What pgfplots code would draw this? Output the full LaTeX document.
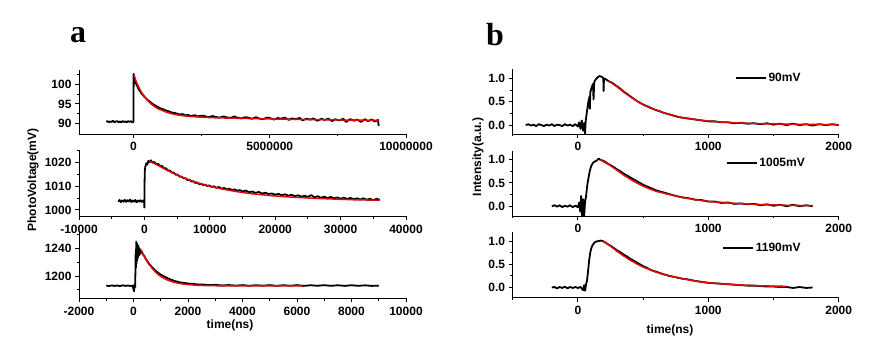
\documentclass[border=0pt]{standalone}
\usepackage{pgfplots}
\pgfplotsset{compat=1.18}
\usepackage{fontspec}
\setmainfont{Liberation Sans}
\newfontfamily\serifbold{Liberation Serif}
\definecolor{fitred}{RGB}{225,10,10}
\pgfplotsset{
  panel/.style={
    scale only axis,
    anchor=south west,
    axis lines=left,
    axis line style={-, line width=0.9pt},
    scaled ticks=false,
    tick align=outside,
    major tick length=4pt,
    minor tick length=2.5pt,
    every tick/.style={black, line width=0.9pt},
    /pgf/number format/assume math mode=true,
    tick label style={font=\bfseries\fontsize{12}{14}\selectfont},
    xticklabel style={yshift=-1pt},
    legend style={draw=none, fill=none, inner sep=0pt, font=\bfseries\fontsize{12}{14}\selectfont},
    legend image code/.code={\draw[black, line width=1.3pt] (0pt,0pt) -- (30pt,0pt);},
  },
  blk/.style={black, line width=1.8pt, line join=round},
  fit/.style={fitred, line width=1.5pt, line join=round},
}
\begin{document}
\begin{tikzpicture}
\path[use as bounding box] (0pt,0pt) rectangle (878pt,361pt);

% ---------- a1 ----------
\begin{axis}[panel, at={(79pt,227pt)}, width=327pt, height=64pt,
  xmin=-2e6, xmax=1e7, ymin=87.3, ymax=103.7,
  xtick={0,5e6,1e7}, xticklabels={0,5000000,10000000},
  minor xtick={2.5e6,7.5e6},
  ytick={90,95,100}, yticklabels={90,95,100},
  minor ytick={92.5,97.5,102.5}]
\addplot[blk] coordinates {(-1e6,90.4)(-0.95e6,90.6)(-0.9e6,90.3)(-0.85e6,90.5)(-0.8e6,90.4)(-0.75e6,90.7)(-0.7e6,90.3)(-0.65e6,90.5)(-0.6e6,90.6)(-0.55e6,90.3)(-0.5e6,90.5)(-0.45e6,90.3)(-0.4e6,90.6)(-0.35e6,90.4)(-0.3e6,90.5)(-0.25e6,90.3)(-0.2e6,90.6)(-0.15e6,90.4)(-0.1e6,90.6)(-0.05e6,90.3)(-0.01e6,90.5)(0,90.4)(0.005e6,102.7)(0.03e6,101.8)(0.06e6,100.9)(0.1e6,100.1)(0.15e6,99.4)(0.2e6,98.6)(0.25e6,98.2)(0.3e6,97.6)(0.35e6,97.3)(0.4e6,96.8)(0.45e6,96.5)(0.5e6,96.1)(0.6e6,95.6)(0.7e6,95.0)(0.8e6,94.6)(0.9e6,94.2)(1.0e6,93.8)(1.1e6,93.6)(1.2e6,93.3)(1.3e6,93.1)(1.4e6,92.8)(1.5e6,92.7)(1.6e6,92.5)(1.7e6,92.3)(1.8e6,92.4)(1.9e6,92.1)(2.0e6,92.2)(2.1e6,91.9)(2.25e6,92.1)(2.35e6,91.8)(2.5e6,92.0)(2.6e6,91.9)(2.75e6,91.6)(2.9e6,91.9)(3.0e6,91.7)(3.15e6,91.5)(3.3e6,91.8)(3.4e6,91.6)(3.55e6,91.4)(3.7e6,91.8)(3.8e6,91.5)(3.95e6,91.3)(4.1e6,91.6)(4.2e6,91.5)(4.35e6,91.2)(4.5e6,91.6)(4.6e6,91.3)(4.75e6,91.1)(4.9e6,91.5)(5.0e6,91.4)(5.15e6,91.0)(5.3e6,91.4)(5.4e6,91.2)(5.55e6,91.5)(5.7e6,90.9)(5.8e6,91.3)(5.95e6,91.1)(6.1e6,91.4)(6.2e6,90.8)(6.35e6,91.2)(6.5e6,91.0)(6.6e6,91.3)(6.75e6,90.7)(6.9e6,91.2)(7.0e6,90.9)(7.15e6,91.2)(7.3e6,90.6)(7.4e6,91.1)(7.55e6,90.8)(7.7e6,91.2)(7.8e6,90.4)(7.95e6,91.1)(8.1e6,90.7)(8.2e6,91.0)(8.35e6,90.4)(8.5e6,91.1)(8.6e6,90.6)(8.75e6,91.0)(8.85e6,90.5)(8.97e6,90.9)(9.0e6,89.4)};
\addplot[fit] coordinates {(0.02e6,102.4)(0.1e6,100.7)(0.2e6,99.2)(0.3e6,97.9)(0.4e6,96.9)(0.5e6,96.0)(0.6e6,95.3)(0.7e6,94.7)(0.8e6,94.2)(0.9e6,93.8)(1.0e6,93.5)(1.2e6,92.9)(1.4e6,92.5)(1.6e6,92.2)(1.8e6,92.0)(2.0e6,91.85)(2.5e6,91.6)(3.0e6,91.45)(4.0e6,91.3)(5.0e6,91.15)(6.0e6,91.05)(7.0e6,90.95)(8.0e6,90.85)(9.0e6,90.8)};
\end{axis}

% ---------- a2 ----------
\begin{axis}[panel, at={(79pt,144.5pt)}, width=327pt, height=66.5pt,
  xmin=-10000, xmax=40000, ymin=997.2, ymax=1025.4,
  xtick={-10000,0,10000,20000,30000,40000}, xticklabels={-10000,0,10000,20000,30000,40000},
  minor xtick={-5000,5000,15000,25000,35000},
  ytick={1000,1010,1020}, yticklabels={1000,1010,1020},
  minor ytick={1005,1015,1025}]
\addplot[blk] coordinates {(-4000,1003.5)(-3800,1004.2)(-3600,1003.3)(-3400,1004.0)(-3200,1003.5)(-3000,1004.3)(-2800,1003.4)(-2600,1004.1)(-2400,1003.6)(-2200,1004.4)(-2000,1003.3)(-1800,1004.0)(-1600,1003.5)(-1400,1004.2)(-1200,1003.2)(-1000,1004.0)(-800,1003.5)(-600,1004.1)(-400,1003.4)(-200,1004.0)(-50,1003.6)(0,1001.0)(30,1012)(60,1016.5)(150,1018.5)(300,1019.8)(450,1019.2)(600,1020.8)(800,1020.2)(1000,1021.0)(1200,1020.1)(1500,1020.3)(1800,1019.4)(2100,1019.5)(2400,1018.6)(2700,1018.6)(3000,1017.7)(3300,1017.6)(3600,1016.7)(3900,1016.7)(4200,1015.8)(4500,1015.8)(4800,1014.9)(5100,1015.0)(5400,1014.1)(5700,1014.1)(6000,1013.4)(6300,1013.4)(6600,1012.6)(6900,1012.8)(7200,1012.0)(7500,1012.1)(7800,1011.4)(8100,1011.6)(8400,1010.9)(8700,1011.1)(9000,1010.5)(9300,1010.7)(9600,1010.1)(9900,1010.4)(10200,1009.8)(10600,1010.0)(11000,1009.4)(11400,1009.7)(11800,1009.0)(12200,1009.3)(12600,1008.7)(13000,1009.0)(13400,1008.4)(13800,1008.7)(14200,1008.1)(14600,1008.4)(15000,1007.8)(15500,1008.2)(16000,1007.5)(16500,1007.8)(17000,1007.2)(17500,1007.6)(18000,1006.9)(18500,1007.3)(19000,1006.7)(19500,1007.0)(20000,1006.4)(20500,1006.8)(21000,1006.2)(21500,1006.6)(22000,1006.0)(22500,1006.4)(23000,1005.8)(23500,1006.2)(24000,1005.6)(24500,1006.0)(25000,1005.5)(25500,1006.3)(26000,1005.3)(26500,1005.8)(27000,1005.1)(27500,1005.6)(28000,1005.0)(28500,1005.5)(29000,1004.9)(29500,1005.3)(30000,1004.7)(30500,1005.2)(31000,1004.6)(31500,1005.1)(32000,1004.5)(32500,1004.9)(33000,1004.4)(33500,1004.9)(34000,1004.3)(34500,1004.7)(35000,1004.1)(35500,1004.7)(36000,1004.3)};
\addplot[fit] coordinates {(800,1020.6)(2000,1019.0)(3000,1017.5)(4000,1016.1)(5000,1014.8)(6000,1013.6)(7000,1012.6)(8000,1011.6)(9000,1010.8)(10000,1010.0)(12000,1008.8)(14000,1007.8)(16000,1007.0)(18000,1006.4)(20000,1005.9)(22000,1005.5)(24000,1005.2)(26000,1004.9)(28000,1004.7)(30000,1004.5)(32000,1004.3)(34000,1004.2)(36000,1004.1)};
\end{axis}

% ---------- a3 ----------
\begin{axis}[panel, at={(79pt,62.7pt)}, width=327pt, height=66pt,
  xmin=-2000, xmax=10000, ymin=1167.8, ymax=1263.5,
  xtick={-2000,0,2000,4000,6000,8000,10000}, xticklabels={-2000,0,2000,4000,6000,8000,10000},
  minor xtick={-1000,1000,3000,5000,7000,9000},
  ytick={1200,1240}, yticklabels={1200,1240},
  minor ytick={1180,1220,1260}]
\addplot[blk] coordinates {(-1000,1186.3)(-900,1185.6)(-800,1186.5)(-700,1185.7)(-600,1186.4)(-500,1185.5)(-400,1186.6)(-300,1185.8)(-200,1186.3)(-100,1185.6)(-30,1186.2)(0,1181)(20,1178)(40,1188)(60,1184)(70,1205)(80,1235)(90,1212)(100,1250)(110,1218)(120,1245)(130,1222)(140,1247)(150,1225)(160,1242)(170,1228)(185,1244)(200,1230)(220,1240)(240,1232)(260,1238)(280,1234)(300,1236)(350,1231)(400,1229)(450,1225)(500,1222)(550,1219)(600,1216.5)(700,1212)(800,1208)(900,1205)(1000,1202)(1100,1200)(1200,1198)(1300,1196)(1400,1194.5)(1500,1193)(1600,1192)(1700,1191)(1800,1190.3)(1900,1189.8)(2000,1189.2)(2200,1188.5)(2400,1187.8)(2600,1187.6)(2800,1186.9)(3000,1187.3)(3250,1186.4)(3500,1187.0)(3750,1186.2)(4000,1186.9)(4250,1186.0)(4500,1186.8)(4750,1186.1)(5000,1186.9)(5250,1185.9)(5500,1186.8)(5750,1186.0)(6000,1186.9)(6250,1185.8)(6500,1186.7)(6750,1186.0)(7000,1186.8)(7250,1185.9)(7500,1186.7)(7750,1185.8)(8000,1186.7)(8250,1185.9)(8500,1186.6)(8750,1185.8)(9000,1186.2)};
\addplot[fit] coordinates {(280,1238)(350,1232)(400,1228)(500,1221)(600,1215.5)(700,1210.5)(800,1206)(900,1202.5)(1000,1199.5)(1200,1195)(1400,1192)(1600,1190)(1800,1188.6)(2000,1187.7)(2300,1186.8)(2600,1186.3)(3000,1186)(4000,1185.8)(5000,1185.8)(6200,1185.8)};
\end{axis}

% ---------- b1 ----------
\begin{axis}[panel, at={(512.7pt,227pt)}, width=326pt, height=64.5pt,
  xmin=-500, xmax=2000, ymin=-0.19, ymax=1.19,
  xtick={0,1000,2000}, xticklabels={0,1000,2000}, minor xtick={-500,500,1500},
  ytick={0,0.5,1}, yticklabels={0.0,0.5,1.0}, minor ytick={-0.25,0.25,0.75},
  legend style={at={(0.682,0.868)}, anchor=west}]
\addplot[blk] coordinates {(-400,0.0)(-380,0.02)(-360,-0.01)(-340,0.01)(-320,-0.02)(-300,0.02)(-280,0.0)(-260,-0.02)(-240,0.01)(-220,-0.01)(-200,0.02)(-180,-0.02)(-160,0.01)(-140,0.0)(-120,-0.02)(-100,0.02)(-80,-0.01)(-60,0.01)(-40,-0.02)(-20,0.02)(0,-0.03)(10,0.06)(20,-0.08)(30,0.1)(40,-0.12)(50,0.05)(55,-0.18)(60,0.1)(70,0.3)(80,0.5)(90,0.62)(92,0.35)(95,0.7)(105,0.8)(115,0.88)(120,0.55)(125,0.92)(135,0.97)(150,1.02)(165,1.05)(175,1.04)(185,1.03)(195,1.0)(197,0.73)(200,1.0)(215,0.98)(235,0.94)(260,0.91)(280,0.87)(300,0.83)(325,0.78)(350,0.72)(375,0.67)(400,0.62)(425,0.57)(450,0.52)(475,0.48)(500,0.44)(525,0.41)(550,0.38)(575,0.35)(600,0.32)(625,0.3)(650,0.27)(675,0.25)(700,0.23)(725,0.21)(750,0.19)(775,0.17)(800,0.16)(850,0.14)(900,0.12)(950,0.1)(1000,0.08)(1050,0.08)(1100,0.06)(1150,0.06)(1200,0.04)(1250,0.05)(1300,0.03)(1350,0.04)(1400,0.02)(1450,0.04)(1500,0.01)(1550,0.03)(1600,0.0)(1650,0.03)(1700,0.0)(1750,0.02)(1800,-0.01)(1850,0.02)(1900,0.0)(1950,0.02)(2000,0.0)};
\addlegendentry{90mV}
\addplot[fit, forget plot] coordinates {(235,0.94)(260,0.9)(300,0.82)(350,0.71)(400,0.61)(450,0.52)(500,0.44)(550,0.37)(600,0.32)(650,0.27)(700,0.23)(750,0.19)(800,0.16)(900,0.12)(1000,0.085)(1100,0.065)(1200,0.05)(1300,0.04)(1400,0.03)(1500,0.025)(1600,0.02)(1800,0.015)(2000,0.01)};
\end{axis}

% ---------- b2 ----------
\begin{axis}[panel, at={(512.7pt,145pt)}, width=326pt, height=65.3pt,
  xmin=-500, xmax=2000, ymin=-0.21, ymax=1.19,
  xtick={0,1000,2000}, xticklabels={0,1000,2000}, minor xtick={-500,500,1500},
  ytick={0,0.5,1}, yticklabels={0.0,0.5,1.0}, minor ytick={-0.25,0.25,0.75},
  legend style={at={(0.654,0.81)}, anchor=west}]
\addplot[blk] coordinates {(-200,0.0)(-180,0.02)(-160,-0.01)(-140,0.02)(-120,-0.02)(-100,0.01)(-80,-0.01)(-60,0.02)(-40,-0.02)(-20,0.01)(0,-0.02)(10,0.08)(18,-0.12)(25,0.22)(32,-0.2)(40,0.15)(47,-0.25)(55,0.1)(62,0.2)(72,0.45)(82,0.62)(92,0.77)(102,0.86)(115,0.93)(130,0.96)(145,0.98)(160,1.02)(175,0.99)(190,0.98)(210,0.95)(230,0.91)(250,0.88)(275,0.84)(300,0.79)(325,0.75)(350,0.7)(375,0.66)(400,0.62)(425,0.58)(450,0.54)(475,0.5)(500,0.46)(525,0.43)(550,0.4)(575,0.37)(600,0.34)(650,0.3)(700,0.26)(750,0.22)(800,0.19)(850,0.17)(900,0.14)(950,0.13)(1000,0.1)(1050,0.1)(1100,0.07)(1150,0.08)(1200,0.05)(1250,0.06)(1300,0.04)(1350,0.05)(1400,0.02)(1450,0.04)(1500,0.01)(1550,0.03)(1600,0.0)(1650,0.03)(1700,0.0)(1750,0.02)(1800,0.0)};
\addlegendentry{1005mV}
\addplot[fit, forget plot] coordinates {(170,1.0)(200,0.95)(250,0.87)(300,0.77)(350,0.67)(400,0.58)(450,0.5)(500,0.43)(550,0.37)(600,0.32)(700,0.25)(800,0.19)(900,0.14)(1000,0.1)(1100,0.08)(1200,0.06)(1400,0.035)(1600,0.02)(1800,0.01)};
\end{axis}

% ---------- b3 ----------
\begin{axis}[panel, at={(512.7pt,63.3pt)}, width=326pt, height=65.5pt,
  xmin=-500, xmax=2000, ymin=-0.22, ymax=1.19,
  xtick={0,1000,2000}, xticklabels={0,1000,2000}, minor xtick={-500,500,1500},
  ytick={0,0.5,1}, yticklabels={0.0,0.5,1.0}, minor ytick={-0.25,0.25,0.75},
  legend style={at={(0.643,0.76)}, anchor=west}]
\addplot[blk] coordinates {(-200,0.0)(-180,0.01)(-160,-0.02)(-140,0.01)(-120,-0.01)(-100,0.02)(-80,-0.02)(-60,0.01)(-40,-0.01)(-20,0.01)(0,-0.01)(20,0.01)(40,-0.06)(48,0.05)(55,-0.07)(62,0.06)(70,0.15)(78,0.35)(86,0.58)(94,0.74)(102,0.84)(112,0.91)(125,0.96)(140,0.99)(160,1.0)(175,1.01)(190,1.0)(210,0.97)(230,0.93)(250,0.9)(275,0.85)(300,0.8)(325,0.76)(350,0.71)(375,0.67)(400,0.62)(425,0.58)(450,0.54)(475,0.5)(500,0.46)(525,0.43)(550,0.39)(575,0.36)(600,0.34)(650,0.29)(700,0.25)(750,0.22)(800,0.19)(850,0.17)(900,0.14)(950,0.12)(1000,0.1)(1050,0.09)(1100,0.08)(1150,0.07)(1200,0.06)(1250,0.05)(1300,0.04)(1350,0.04)(1400,0.03)(1450,0.02)(1500,0.02)(1550,0.01)(1600,0.01)(1650,-0.01)(1700,0.01)(1750,-0.01)(1800,0.0)};
\addlegendentry{1190mV}
\addplot[fit, forget plot] coordinates {(190,1.0)(250,0.89)(300,0.78)(350,0.68)(400,0.59)(450,0.51)(500,0.44)(600,0.33)(700,0.25)(800,0.19)(900,0.14)(1000,0.1)(1100,0.08)(1200,0.06)(1300,0.045)(1400,0.035)(1500,0.03)(1600,0.025)};
\end{axis}

% ---------- labels ----------
\node[font=\serifbold\bfseries\fontsize{32}{34}\selectfont] at (78pt,326pt) {a};
\node[font=\serifbold\bfseries\fontsize{32}{34}\selectfont] at (495pt,326pt) {b};
\node[font=\bfseries\fontsize{12}{14}\selectfont, rotate=90] at (33pt,181pt) {PhotoVoltage(mV)};
\node[font=\bfseries\fontsize{12}{14}\selectfont, rotate=90] at (478pt,204pt) {Intensity(a.u.)};
\node[font=\bfseries\fontsize{12}{14}\selectfont] at (230pt,36pt) {time(ns)};
\node[font=\bfseries\fontsize{12}{14}\selectfont] at (670pt,31pt) {time(ns)};
\end{tikzpicture}
\end{document}
